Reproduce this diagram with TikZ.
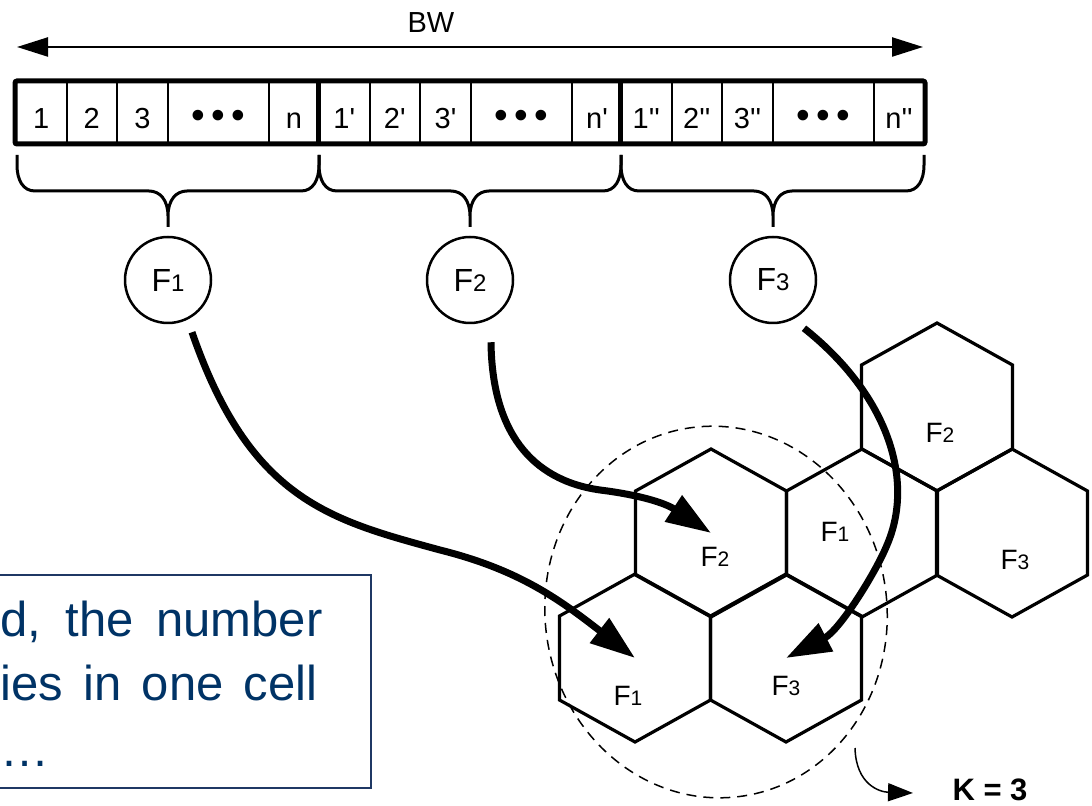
\documentclass[tikz,border=0pt]{standalone}
\usepackage{fontspec}
\setmainfont{Liberation Sans}
\usepackage{tikz}
\usetikzlibrary{positioning,arrows.meta,calc}

\definecolor{notenavy}{RGB}{0,51,102}
\definecolor{noteedge}{RGB}{31,56,100}
\newcommand{\fsub}[1]{F{\fontsize{10.5}{12}\selectfont #1}}
\newcommand{\fbig}[1]{F{\fontsize{12}{14}\selectfont #1}}

\begin{document}
\begin{tikzpicture}[x=0.5pt, y=-0.5pt,
  cell/.style={draw, line width=1pt, minimum height=30.5pt, inner sep=0pt,
               text height=16.5pt, text depth=0pt, font=\fontsize{14.5}{17}\selectfont},
  barframe/.style={line width=2.5pt},
  brc/.style={line width=1.5pt},
  freq/.style={circle, draw, line width=1.25pt, minimum size=43pt, inner sep=0pt,
               font=\fontsize{16}{19}\selectfont},
  hexl/.style={line width=1.6pt, line join=miter},
  lbl/.style={anchor=base, inner sep=0pt, font=\fontsize{14}{17}\selectfont},
  hop/.style={line width=3.5pt, -{Triangle[length=22.5pt, width=15pt]}},
  note/.style={anchor=base west, inner sep=0pt, text=notenavy,
               font=\fontsize{24.5}{32}\selectfont}
]
  \useasboundingbox (0,0) rectangle (1092,806);

  % bandwidth arrow
  \coordinate (bwl) at (17,47);
  \coordinate (bwr) at (923,47);
  \draw[line width=1.15pt, {Triangle[length=15.5pt, width=9.5pt]}-{Triangle[length=15.5pt, width=9.5pt]}] (bwl) -- (bwr);
  \node[font=\fontsize{14.5}{17}\selectfont] (bw) at (431,23) {BW};

  % channel cells
  \foreach \s/\q/\g in {16/{}/a, 319/{\textquotesingle}/b, 621/{\textquotesingle\textquotesingle}/c} {
    \node[cell, minimum width=25.25pt] (one\g)   at (\s+25.25,112.5) {1\q};
    \node[cell, minimum width=25.25pt] (two\g)   at (\s+75.75,112.5) {2\q};
    \node[cell, minimum width=25.5pt]  (three\g) at (\s+126.5,112.5) {3\q};
    \node[cell, minimum width=50.5pt]  (dots\g)  at (\s+202.5,112.5)
      {\fontsize{19.5}{20}\selectfont •\hspace{3.2pt}•\hspace{3.2pt}•};
    \node[cell, minimum width=25pt]    (n\g)     at (\s+278,112.5) {n\q};
  }
  \draw[barframe, rounded corners=1pt] (onea.north west) rectangle (nc.south east);
  \draw[barframe] (oneb.north west) -- (oneb.south west);
  \draw[barframe] (onec.north west) -- (onec.south west);

  % braces
  \foreach \xa/\xm/\xb in {17/168/319, 319/470/621, 621/773/924} {
    \draw[brc] (\xa,155) -- (\xa,165) .. controls (\xa,180) and (\xa+6,191) .. (\xa+18,191)
      -- (\xm-19,191) .. controls (\xm-8,191) and (\xm,200) .. (\xm,216) -- (\xm,227)
      -- (\xm,216) .. controls (\xm,200) and (\xm+8,191) .. (\xm+19,191)
      -- (\xb-18,191) .. controls (\xb-6,191) and (\xb,180) .. (\xb,165) -- (\xb,155);
  }

  % frequency groups
  \node[freq] (f1) at (168,280) {\fbig{1}};
  \node[freq] (f2) at (470,280) {\fbig{2}};
  \node[freq] (f3) at (773,280) {\fbig{3}};

  % cluster cells
  \coordinate (hA) at (635,658);
  \coordinate (hB) at (786,658);
  \coordinate (hC) at (711,533);
  \coordinate (hD) at (862,533);
  \coordinate (hE) at (1012,533);
  \coordinate (hG) at (937,407);
  \foreach \c in {hA,hB,hC,hD,hE,hG}
    \draw[hexl] (\c) ++(0,-84) -- ++(75.5,42) -- ++(0,84) -- ++(-75.5,42)
      -- ++(-75.5,-42) -- ++(0,-84) -- cycle;
  \node[lbl] (lA) at (628,705) {\fsub{1}};
  \node[lbl] (lB) at (786,695) {\fsub{3}};
  \node[lbl] (lC) at (715,567) {\fsub{2}};
  \node[lbl] (lD) at (835,542) {\fsub{1}};
  \node[lbl] (lE) at (1015,570) {\fsub{3}};
  \node[lbl] (lG) at (940,443) {\fsub{2}};

  % cluster outline
  \coordinate (clu) at (716,612);
  \draw[line width=0.75pt, dash pattern=on 5pt off 3.5pt, rotate around={7:(clu)}]
    (clu) ellipse [x radius=171, y radius=186];
  \coordinate (kfrom) at (855,748);
  \coordinate (kto) at (913,793);
  \draw[line width=0.75pt, -{Triangle[length=12.5pt, width=9pt]}]
    (kfrom) .. controls (856,785) and (880,792) .. (kto);
  \node[lbl, font=\fontsize{15.5}{18}\selectfont\bfseries] (k) at (990,800) {K = 3};

  % assignment arrows
  \draw[hop] ($(f1.south)+(24,8)$) .. controls (250,500) and (330,520) .. (440,550)
    .. controls (520,570) and (560,600) .. (hA);
  \draw[hop] ($(f2.south)+(21,18)$) .. controls (492,430) and (530,480) .. (600,490)
    .. controls (640,495) and (665,503) .. (hC);
  \draw[hop] ($(f3.south)+(31,4)$) .. controls (888,395) and (915,480) .. (887,545)
    .. controls (876,572) and (840,630) .. (hB);

  % note box
  \draw[line width=0.9pt, draw=noteedge, fill=white] (-20,575) rectangle (371,788);
  \node[note] (note1) at (0,636) {\makebox[161pt][s]{d, the number}};
  \node[note] (note2) at (0,700) {\makebox[158.5pt][s]{ies in one cell}};
  \node[note] (note3) at (0,766) {…};
\end{tikzpicture}
\end{document}
